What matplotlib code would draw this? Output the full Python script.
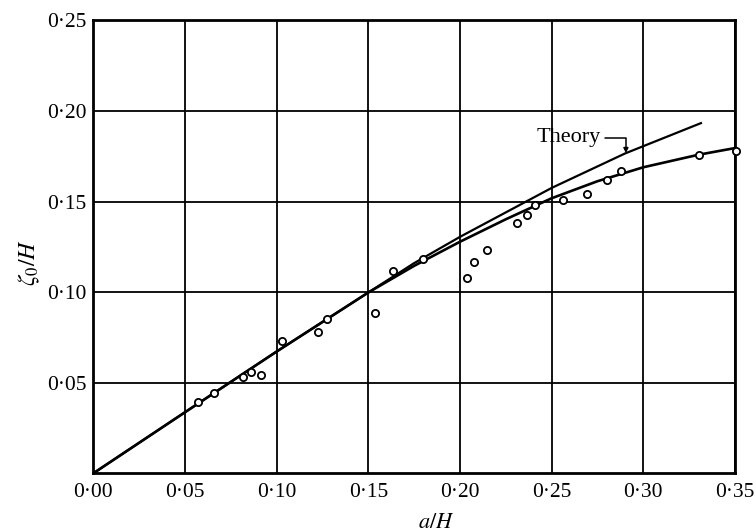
import numpy as np
import matplotlib
matplotlib.use("Agg")
import matplotlib.pyplot as plt
from matplotlib.ticker import FuncFormatter

plt.rcParams['font.family'] = ['Liberation Serif', 'DejaVu Serif']
plt.rcParams['mathtext.fontset'] = 'stix'

# measured points
a_H = [0.0569, 0.0660, 0.0815, 0.0858, 0.0916, 0.1027, 0.1227, 0.1274,
       0.1538, 0.1636, 0.1801, 0.2036, 0.2078, 0.2147, 0.2309, 0.2363,
       0.2408, 0.2561, 0.2694, 0.2803, 0.2876, 0.3303, 0.3508]
zeta_H = [0.0395, 0.0441, 0.0532, 0.0561, 0.0542, 0.0730, 0.0778, 0.0852,
          0.0883, 0.1115, 0.1181, 0.1076, 0.1168, 0.1232, 0.1383, 0.1424,
          0.1483, 0.1508, 0.1542, 0.1617, 0.1667, 0.1758, 0.1780]

# faired curve through the measurements
fit_x = [0.0, 0.05, 0.10, 0.15, 0.175, 0.20, 0.225, 0.25, 0.275, 0.30, 0.33, 0.35]
fit_y = [0.0, 0.0337, 0.0672, 0.0998, 0.1145, 0.1278, 0.1402, 0.1518, 0.1612,
         0.1689, 0.1758, 0.1795]

# theoretical curve
theory_x = [0.0, 0.05, 0.10, 0.15, 0.175, 0.20, 0.25, 0.29, 0.332]
theory_y = [0.0, 0.0337, 0.0672, 0.0998, 0.1160, 0.1305, 0.1575, 0.1765, 0.1935]

xticks = [0.0, 0.05, 0.10, 0.15, 0.20, 0.25, 0.30, 0.35]
yticks = [0.05, 0.10, 0.15, 0.20, 0.25]

fig = plt.figure(figsize=(7.56, 5.32), dpi=100)
ax = fig.add_axes([0.1234, 0.1103, 0.8488, 0.8515])

ax.set_xlim(0, 0.35)
ax.set_ylim(0, 0.25)
ax.set_xticks(xticks)
ax.set_yticks(yticks)
fmt = FuncFormatter(lambda v, pos: f"{v:.2f}".replace('.', '\u00b7'))
ax.xaxis.set_major_formatter(fmt)
ax.yaxis.set_major_formatter(fmt)
ax.tick_params(length=0, labelsize=15.5, pad=7)
ax.tick_params(axis='y', pad=5)
ax.grid(True, color='black', linewidth=1.3)
ax.set_axisbelow(True)
for s in ax.spines.values():
    s.set_linewidth(2.0)

ax.plot(theory_x, theory_y, color='black', linewidth=1.6, solid_capstyle='butt')
ax.plot(fit_x, fit_y, color='black', linewidth=1.9, solid_capstyle='butt')
ax.plot(a_H, zeta_H, linestyle='none', marker='o', markersize=5.2,
        markerfacecolor='white', markeredgecolor='black',
        markeredgewidth=1.3, clip_on=False, zorder=5)

# leader from the label down onto the theoretical curve
ax.annotate('Theory', xy=(0.2905, 0.1767), xytext=(0.2595, 0.1852),
            fontsize=16, ha='center', va='center',
            arrowprops=dict(arrowstyle='-|>', color='black', lw=1.1,
                            mutation_scale=7, shrinkA=1, shrinkB=0,
                            connectionstyle='angle,angleA=0,angleB=90,rad=0'))

ax.set_xlabel(r'$a/H$', fontsize=16)
ax.set_ylabel(r'$\zeta_0/H$', fontsize=17)
ax.xaxis.set_label_coords(0.535, -0.089)
ax.yaxis.set_label_coords(-0.08, 0.465)

fig.savefig('out.png', dpi=100)
